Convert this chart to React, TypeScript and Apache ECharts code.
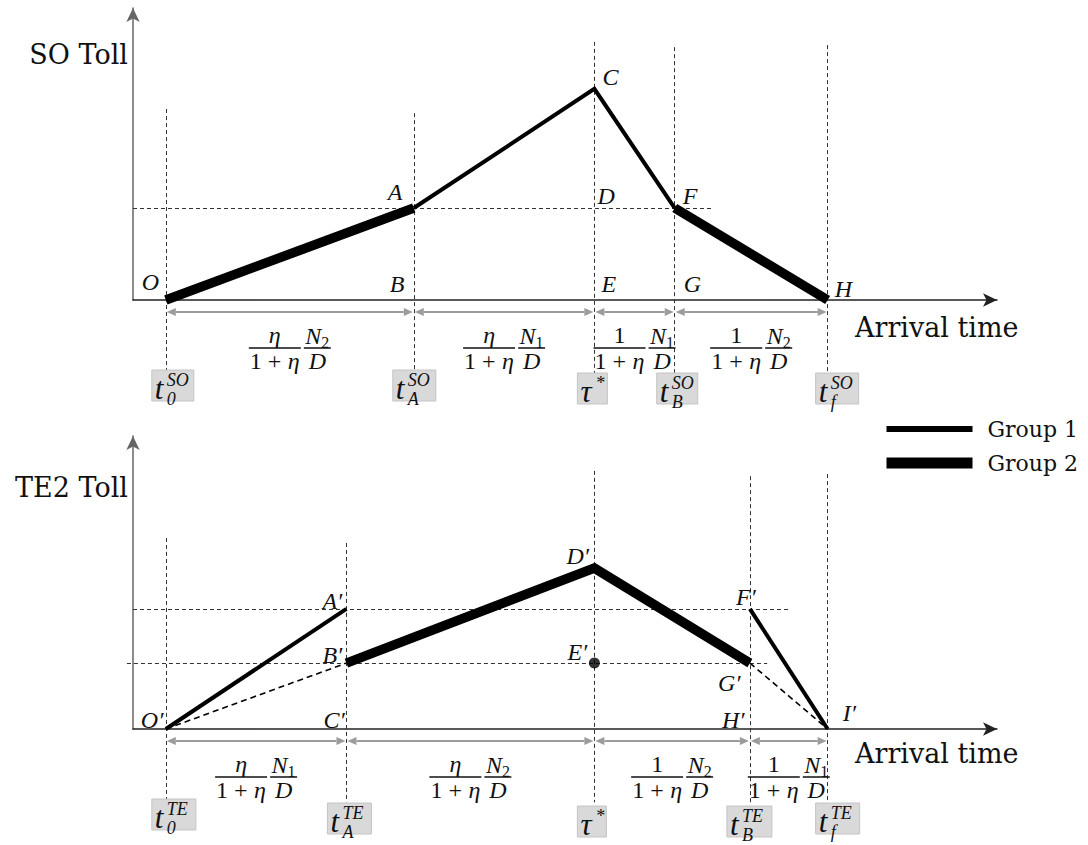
import React, { useEffect, useRef } from "react";
import * as echarts from "echarts";

// ---------------- data (conceptual units) ----------------
// x: arrival time (0..100 along axis), y: toll (0..100 along axis)
const soTimes = [3.8, 32.5, 53.4, 62.7, 80.4]; // t0, tA, tau*, tB, tf  (SO)
const teTimes = [3.8, 24.7, 53.4, 71.4, 80.4]; // t0, tA, tau*, tB, tf  (TE2)

const soGroup2Left = [[3.8, 0], [32.5, 31.5]];
const soGroup1 = [[32.5, 31.5], [53.4, 72.3], [62.7, 31.5]];
const soGroup2Right = [[62.7, 31.5], [80.4, 0]];

const teGroup1Left = [[3.8, 0], [24.7, 41]];
const teGroup2 = [[24.7, 22.5], [53.4, 54.9], [71.4, 22.5]];
const teGroup1Right = [[71.4, 41], [80.4, 0]];
const teRefLeft = [[3.8, 0], [24.7, 22.5]];
const teRefRight = [[71.4, 22.5], [80.4, 0]];
const tePointE = [[53.4, 22.5]];

const soGuideTop = [65.4, 64.0, 88.4, 86.6, 87.3];
const teGuideTop = [65.2, 63.5, 88.1, 86.3, 87.0];
const guideBottom = -25;
const soHGuides = [[[0, 31.5], [67.0, 31.5]]];
const teHGuides = [
  [[0, 41], [76.0, 41]],
  [[-0.7, 22.5], [73.4, 22.5]],
];

const soFracTop = ["η", "η", "1", "1"];
const soFracN = ["2", "1", "1", "2"];
const teFracTop = ["η", "η", "1", "1"];
const teFracN = ["1", "2", "2", "1"];

const boxMain = ["t", "t", "τ", "t", "t"];
const soBoxSup = ["SO", "SO", "*", "SO", "SO"];
const teBoxSup = ["TE", "TE", "*", "TE", "TE"];
const boxSub = ["0", "A", "", "B", "f"];

const soLabelNames = ["O", "A", "B", "C", "D", "E", "F", "G", "H"];
const soLabelAnchors = [
  [3.8, 0], [32.5, 31.5], [32.5, 0], [53.4, 72.3], [53.4, 31.5], [53.4, 0], [62.7, 31.5], [62.7, 0], [80.4, 0],
];
const teLabelNames = ["O′", "C′", "A′", "B′", "D′", "E′", "F′", "G′", "H′", "I′"];
const teLabelAnchors = [
  [3.8, 0], [24.7, 0], [24.7, 41], [24.7, 22.5], [53.4, 54.9], [53.4, 22.5], [71.4, 41], [71.4, 22.5], [71.4, 0], [80.4, 0],
];

const legendNames = ["Group 1", "Group 2"];

// ---------------- layout / style (pixels) ----------------
const soLabelOffsets = [[-24, -18], [-26, -16], [-24, -16], [8, -12], [3, -12], [7, -16], [8, -12], [9, -16], [7, -11]];
const teLabelOffsets = [[-25, -9], [-23, -9], [-24, -8], [-24, -8], [-28, -12], [-27, -11], [-14, -12], [-32, 20], [-28, -9], [15, -16]];
const soBoxLayout = [
  { dx: -14, w: 42, dy: 70 }, { dx: -21, w: 43, dy: 70 }, { dx: -17, w: 30, dy: 73 }, { dx: -18, w: 41, dy: 73 }, { dx: -12, w: 43, dy: 73 },
];
const teBoxLayout = [
  { dx: -14, w: 44, dy: 70 }, { dx: -19, w: 44, dy: 74 }, { dx: -17, w: 29, dy: 77 }, { dx: -23, w: 45, dy: 77 }, { dx: -12, w: 44, dy: 74 },
];

const SERIF = '"DejaVu Serif", serif';
const MATH = '"Liberation Serif", serif';
const THIN = 4;
const THICK = 9.5;

function lineSeries(name: string, data: number[][], width: number, gi: number, dashed = false) {
  return {
    type: "line",
    name,
    xAxisIndex: gi,
    yAxisIndex: gi,
    data,
    symbol: "none",
    clip: false,
    silent: true,
    z: 4,
    itemStyle: { color: "#000" },
    lineStyle: {
      color: "#000",
      width,
      cap: "butt",
      join: "miter",
      type: dashed ? [6, 4] : "solid",
    },
  };
}

function guideSeries(times: number[], tops: number[], hGuides: number[][][], gi: number) {
  const data: any[] = times.map((t, i) => ({ coords: [[t, tops[i]], [t, guideBottom]] }));
  hGuides.forEach((g) => data.push({ coords: g }));
  return {
    type: "lines",
    coordinateSystem: "cartesian2d",
    xAxisIndex: gi,
    yAxisIndex: gi,
    clip: false,
    silent: true,
    z: 2,
    symbol: "none",
    data,
    lineStyle: { color: "#333", width: 1, type: [4, 3], opacity: 1 },
  };
}

function labelSeries(names: string[], anchors: number[][], offsets: number[][], gi: number) {
  return {
    type: "custom",
    xAxisIndex: gi,
    yAxisIndex: gi,
    clip: false,
    silent: true,
    z: 6,
    data: anchors,
    renderItem: (params: any, api: any) => {
      const p = api.coord([api.value(0), api.value(1)]);
      const off = offsets[params.dataIndex];
      return {
        type: "text",
        style: {
          text: names[params.dataIndex],
          x: p[0] + off[0],
          y: p[1] + off[1],
          font: `italic 24px ${MATH}`,
          lineHeight: 22,
          fill: "#111",
          align: "left",
          verticalAlign: "middle",
        },
      };
    },
  };
}

function boxSeries(times: number[], sups: string[], layout: any[], gi: number) {
  return {
    type: "custom",
    xAxisIndex: gi,
    yAxisIndex: gi,
    clip: false,
    silent: true,
    z: 7,
    data: times.map((t) => [t, 0]),
    renderItem: (params: any, api: any) => {
      const i = params.dataIndex;
      const p = api.coord([api.value(0), 0]);
      const L = layout[i];
      const left = p[0] + L.dx;
      const top = p[1] + L.dy;
      const children: any[] = [
        {
          type: "rect",
          shape: { x: left, y: top, width: L.w, height: 31 },
          style: { fill: "#d9d9d9", stroke: "#c4c4c4", lineWidth: 1 },
        },
        {
          type: "text",
          style: {
            text: boxMain[i],
            x: left + 3,
            y: top + 18,
            font: `italic 31px ${MATH}`,
            lineHeight: 24,
            fill: "#111",
            align: "left",
            verticalAlign: "middle",
          },
        },
        {
          type: "text",
          style: {
            text: sups[i],
            x: left + (boxMain[i] === "τ" ? 18 : 15),
            y: top + 10,
            font: `italic 18px ${MATH}`,
            lineHeight: 14,
            fill: "#111",
            align: "left",
            verticalAlign: "middle",
          },
        },
      ];
      if (boxSub[i]) {
        children.push({
          type: "text",
          style: {
            text: boxSub[i],
            x: left + 15,
            y: top + 29,
            font: `italic 18px ${MATH}`,
            lineHeight: 14,
            fill: "#111",
            align: "left",
            verticalAlign: "middle",
          },
        });
      }
      return { type: "group", children };
    },
  };
}

function segmentSeries(times: number[], tops: string[], ns: string[], gi: number) {
  const data = times.slice(0, -1).map((t, i) => [t, 0, times[i + 1]]);
  return {
    type: "custom",
    xAxisIndex: gi,
    yAxisIndex: gi,
    clip: false,
    silent: true,
    z: 6,
    encode: { x: 0, y: 1 },
    data,
    renderItem: (params: any, api: any) => {
      const i = params.dataIndex;
      const p1 = api.coord([api.value(0), 0]);
      const p2 = api.coord([api.value(2), 0]);
      const ay = p1[1] + 12;
      const a = p1[0] + 1;
      const b = p2[0] - 1;
      const gray = "#9c9c9c";
      const head = 9;
      const hw = 4;
      const mid = (p1[0] + p2[0]) / 2;
      const barY = p1[1] + 48;
      const lc = mid - 15;
      const rc = mid + 27.5;
      const txt = (text: string, x: number, y: number, font: string, align = "center", lh = 20) => ({
        type: "text",
        style: { text, x, y, font, fill: "#111", align, verticalAlign: "middle", lineHeight: lh },
      });
      const children: any[] = [
        { type: "line", shape: { x1: a + head, y1: ay, x2: b - head, y2: ay }, style: { stroke: gray, lineWidth: 2 } },
        { type: "polygon", shape: { points: [[a, ay], [a + head, ay - hw], [a + head, ay + hw]] }, style: { fill: gray } },
        { type: "polygon", shape: { points: [[b, ay], [b - head, ay - hw], [b - head, ay + hw]] }, style: { fill: gray } },
        { type: "line", shape: { x1: mid - 41, y1: barY, x2: mid + 11, y2: barY }, style: { stroke: "#111", lineWidth: 1.5 } },
        { type: "line", shape: { x1: mid + 14, y1: barY, x2: mid + 41, y2: barY }, style: { stroke: "#111", lineWidth: 1.5 } },
        txt(tops[i], lc, barY - 13, `${tops[i] === "η" ? "italic " : ""}24px ${MATH}`),
        txt("1 + ", lc - 25, barY + 13, `24px ${MATH}`, "left"),
        txt("η", lc + 13, barY + 13, `italic 24px ${MATH}`, "left"),
        txt("N", rc - 12, barY - 12, `italic 24px ${MATH}`, "left"),
        txt(ns[i], rc + 4, barY - 6, `16px ${MATH}`, "left", 14),
        txt("D", rc, barY + 13, `italic 24px ${MATH}`),
      ];
      return { type: "group", children };
    },
  };
}

function axisX(gi: number, paddingTop: number) {
  return {
    type: "value",
    gridIndex: gi,
    min: 0,
    max: 100,
    name: "Arrival time",
    nameLocation: "end",
    nameGap: -142,
    nameTextStyle: {
      fontFamily: SERIF,
      fontSize: 27,
      color: "#111",
      align: "left",
      verticalAlign: "top",
      padding: [paddingTop, 0, 0, 0],
    },
    axisLine: {
      show: true,
      onZero: false,
      symbol: ["none", "arrow"],
      symbolSize: [10, 14],
      lineStyle: { color: "#222", width: 1.5 },
    },
    axisTick: { show: false },
    axisLabel: { show: false },
    splitLine: { show: false },
  };
}

function axisY(gi: number, name: string, gap: number) {
  return {
    type: "value",
    gridIndex: gi,
    min: 0,
    max: 100,
    name,
    nameLocation: "end",
    nameGap: gap,
    nameTextStyle: {
      fontFamily: SERIF,
      fontSize: 27,
      color: "#111",
      align: "right",
      verticalAlign: "middle",
      padding: [0, 5, 0, 0],
    },
    axisLine: {
      show: true,
      onZero: false,
      symbol: ["none", "arrow"],
      symbolSize: [10, 14],
      lineStyle: { color: "#666", width: 1.5 },
    },
    axisTick: { show: false },
    axisLabel: { show: false },
    splitLine: { show: false },
  };
}

export default function App() {
  const ref = useRef<HTMLDivElement>(null);
  useEffect(() => {
    if (!ref.current) return;
    const chart = echarts.init(ref.current, undefined, { renderer: "svg" });
    chart.setOption({
      animation: false,
      backgroundColor: "#fff",
      grid: [
        { left: 133, top: 8, width: 864, height: 292 },
        { left: 133, top: 436, width: 864, height: 293 },
      ],
      xAxis: [axisX(0, 14), axisX(1, 11)],
      yAxis: [axisY(0, "SO Toll", -46), axisY(1, "TE2 Toll", -51)],
      legend: {
        left: 881,
        top: 417,
        orient: "vertical",
        padding: 0,
        itemWidth: 86,
        itemHeight: 14,
        itemGap: 10,
        selectedMode: false,
        data: [
          { name: legendNames[0], lineStyle: { width: 6, color: "#000" }, itemStyle: { opacity: 0 } },
          { name: legendNames[1], lineStyle: { width: 11, color: "#000" }, itemStyle: { opacity: 0 } },
        ],
        textStyle: { fontFamily: SERIF, fontSize: 22, color: "#111", lineHeight: 24, padding: [0, 0, 0, 10] },
      },
      series: [
        guideSeries(soTimes, soGuideTop, soHGuides, 0),
        guideSeries(teTimes, teGuideTop, teHGuides, 1),
        lineSeries(legendNames[0], soGroup1, THIN, 0),
        lineSeries(legendNames[1], soGroup2Left, THICK, 0),
        lineSeries(legendNames[1], soGroup2Right, THICK, 0),
        lineSeries(legendNames[0], teGroup1Left, THIN, 1),
        lineSeries(legendNames[0], teGroup1Right, THIN, 1),
        lineSeries(legendNames[1], teGroup2, THICK, 1),
        lineSeries("ref", teRefLeft, 1.6, 1, true),
        lineSeries("ref", teRefRight, 1.6, 1, true),
        {
          type: "scatter",
          xAxisIndex: 1,
          yAxisIndex: 1,
          data: tePointE,
          symbolSize: 11,
          itemStyle: { color: "#000" },
          silent: true,
          z: 5,
        },
        segmentSeries(soTimes, soFracTop, soFracN, 0),
        segmentSeries(teTimes, teFracTop, teFracN, 1),
        boxSeries(soTimes, soBoxSup, soBoxLayout, 0),
        boxSeries(teTimes, teBoxSup, teBoxLayout, 1),
        labelSeries(soLabelNames, soLabelAnchors, soLabelOffsets, 0),
        labelSeries(teLabelNames, teLabelAnchors, teLabelOffsets, 1),
      ],
    });
    return () => chart.dispose();
  }, []);
  return (
    <div
      ref={ref}
      style={{ position: "absolute", left: 0, top: 0, width: 1088, height: 845, background: "#fff" }}
    />
  );
}
